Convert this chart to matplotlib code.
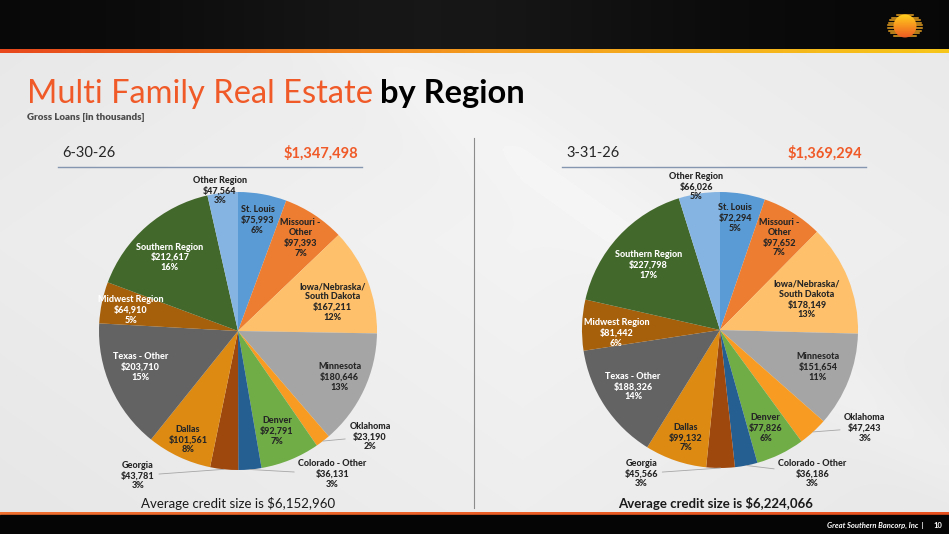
import numpy as np
import matplotlib.pyplot as plt
from matplotlib.colors import LinearSegmentedColormap

plt.rcParams['font.family'] = ['Lato', 'DejaVu Sans']

W, H = 949, 534

regions = ['St. Louis', 'Missouri -\nOther', 'Iowa/Nebraska/\nSouth Dakota', 'Minnesota',
           'Oklahoma', 'Denver', 'Colorado - Other', 'Georgia', 'Dallas', 'Texas - Other',
           'Midwest Region', 'Southern Region', 'Other Region']
loans_jun = [75993, 97393, 167211, 180646, 23190, 92791, 36131, 43781, 101561, 203710, 64910, 212617, 47564]
pct_jun = [6, 7, 12, 13, 2, 7, 3, 3, 8, 15, 5, 16, 3]
loans_mar = [72294, 97652, 178149, 151654, 47243, 77826, 36186, 45566, 99132, 188326, 81442, 227798, 66026]
pct_mar = [5, 7, 13, 11, 3, 6, 3, 3, 7, 14, 6, 17, 5]
totals = ['$1,347,498', '$1,369,294']
dates = ['6-30-26', '3-31-26']
avg_credit = ['Average credit size is $6,152,960', 'Average credit size is $6,224,066']

colors = ['#5B9BD5', '#ED7D31', '#FEC06A', '#A5A5A5', '#F89B22', '#70AD47', '#255E91',
          '#9E480E', '#DD8A13', '#636363', '#A65F0A', '#43682B', '#86B4E2']
white_txt = {'Texas - Other', 'Midwest Region', 'Southern Region'}
leader = {'Oklahoma', 'Colorado - Other', 'Georgia'}

# label spots in pie radius units
pos_jun = [(0.14, 0.80), (0.45, 0.67), (0.68, 0.21), (0.73, -0.33), (0.95, -0.76), (0.28, -0.72),
           (0.68, -1.03), (-0.72, -1.04), (-0.36, -0.78), (-0.70, -0.26), (-0.77, 0.15),
           (-0.49, 0.53), (-0.13, 1.01)]
pos_mar = [(0.11, 0.81), (0.43, 0.67), (0.63, 0.22), (0.71, -0.27), (1.05, -0.71), (0.33, -0.71),
           (0.67, -1.04), (-0.57, -1.04), (-0.25, -0.78), (-0.63, -0.41), (-0.75, -0.02),
           (-0.52, 0.47), (-0.17, 1.04)]

ORANGE = '#F05A28'

fig = plt.figure(figsize=(W / 100, H / 100), dpi=100)
bg = fig.add_axes([0, 0, 1, 1])
bg.set_xlim(0, W)
bg.set_ylim(H, 0)
bg.axis('off')

# light body background
yy, xx = np.mgrid[0:H, 0:W]
body = 0.95 - 0.05 * np.abs((xx - 0.55 * W) / W) - 0.04 * np.abs((yy - 0.45 * H) / H)
body = body + 0.015 * np.exp(-((xx - yy * 1.4 - 300) / 60.0) ** 2)
bg.imshow(np.clip(body, 0, 1), cmap='gray', vmin=0, vmax=1, extent=(0, W, H, 0), aspect='auto', zorder=0)

# top black bar
top = 0.03 + 0.06 * np.exp(-((xx[:50] - 0.45 * W) / 260.0) ** 2)
bg.imshow(top, cmap='gray', vmin=0, vmax=1, extent=(0, W, 50, 0), aspect='auto', zorder=1)
grad = np.linspace(0, 1, 200).reshape(1, -1)
band = LinearSegmentedColormap.from_list('band', ['#E8481C', '#F39A1E', '#F7C61A'])
bg.imshow(grad, cmap=band, extent=(0, W, 53.5, 50), aspect='auto', zorder=2)

# footer
bg.imshow(grad, cmap=LinearSegmentedColormap.from_list('f', ['#F07030', '#E8501E']),
          extent=(0, W, 515, 512), aspect='auto', zorder=2)
bg.add_patch(plt.Rectangle((0, 515), W, 19, color='#050505', zorder=2))
bg.text(924, 525, 'Great Southern Bancorp, Inc  |', color='white', fontsize=5.5, fontstyle='italic',
        fontweight='bold', ha='right', va='center', zorder=3)
bg.text(938, 525, '10', color='white', fontsize=5.5, fontweight='bold', ha='center', va='center', zorder=3)

# logo
lc_x, lc_y = 905, 26
for k in np.arange(-11, 12, 2.6):
    hw = 17 * np.sqrt(max(0, 1 - (k / 12.5) ** 2))
    bg.plot([lc_x - hw, lc_x + hw], [lc_y + k, lc_y + k], color='#E8A020', lw=1.1, zorder=3)
logo = LinearSegmentedColormap.from_list('logo', ['#FFD21E', '#F7931E', '#EE5A24'])
circ = plt.Circle((lc_x, lc_y), 11.5, transform=bg.transData)
im = bg.imshow(np.linspace(0, 1, 50).reshape(-1, 1), cmap=logo, extent=(lc_x - 12, lc_x + 12, lc_y + 12, lc_y - 12),
               aspect='auto', zorder=4)
im.set_clip_path(circ)

# title
t1 = bg.text(27, 103, 'Multi Family Real Estate', color=ORANGE, fontsize=23.5, va='baseline', zorder=5)
fig.canvas.draw()
bb = t1.get_window_extent()
x_end = bg.transData.inverted().transform((bb.x1, 0))[0]
bg.text(x_end + 7, 103, 'by Region', color='black', fontsize=23.5, fontweight='bold', va='baseline', zorder=5)
bg.text(27, 117, 'Gross Loans [in thousands]', color='#4D4D4D', fontsize=7, fontweight='heavy',
        va='center', zorder=5)

# panel headers
for i, (x0, x1) in enumerate([(58, 362), (562, 866)]):
    bg.text(x0 + 4, 153, dates[i], color='#262626', fontsize=10.5, va='center', zorder=5)
    bg.text(x1 - 4, 153, totals[i], color=ORANGE, fontsize=10.5, fontweight='bold', ha='right',
            va='center', zorder=5)
    bg.plot([x0, x1], [167, 167], color='#8496B0', lw=1, zorder=5)
bg.plot([474, 474], [138, 508], color='#8C8C8C', lw=0.8, zorder=5)
bg.text(238, 503, avg_credit[0], color='#1A1A1A', fontsize=9.5, ha='center', va='center', zorder=5)
bg.text(716, 503, avg_credit[1], color='#1A1A1A', fontsize=9.5, fontweight='bold', ha='center',
        va='center', zorder=5)


def draw_pie(cx, cy, r, values, pcts, positions):
    s = 1.4
    ax = fig.add_axes([(cx - s * r) / W, (H - cy - s * r) / H, 2 * s * r / W, 2 * s * r / H])
    wedges, _ = ax.pie(values, colors=colors, startangle=90, counterclock=False, radius=1,
                       wedgeprops=dict(linewidth=0))
    ax.set_xlim(-s, s)
    ax.set_ylim(-s, s)
    ax.axis('off')
    for w, name, v, p, (lx, ly) in zip(wedges, regions, values, pcts, positions):
        txt = f'{name}\n${v:,}\n{p}%'
        col = 'white' if name in white_txt else '#262626'
        kw = dict(ha='center', va='center', fontsize=6.5, fontweight='black', color=col, linespacing=1.15)
        if name in leader:
            mid = np.deg2rad((w.theta1 + w.theta2) / 2)
            ax.annotate(txt, xy=(np.cos(mid), np.sin(mid)), xytext=(lx, ly), **kw,
                        arrowprops=dict(arrowstyle='-', color='#A6A6A6', lw=0.6, shrinkA=1, shrinkB=0))
        else:
            ax.text(lx, ly, txt, **kw)


draw_pie(238, 331, 139, loans_jun, pct_jun, pos_jun)
draw_pie(720, 330, 138, loans_mar, pct_mar, pos_mar)

fig.savefig('out.png', dpi=100)
